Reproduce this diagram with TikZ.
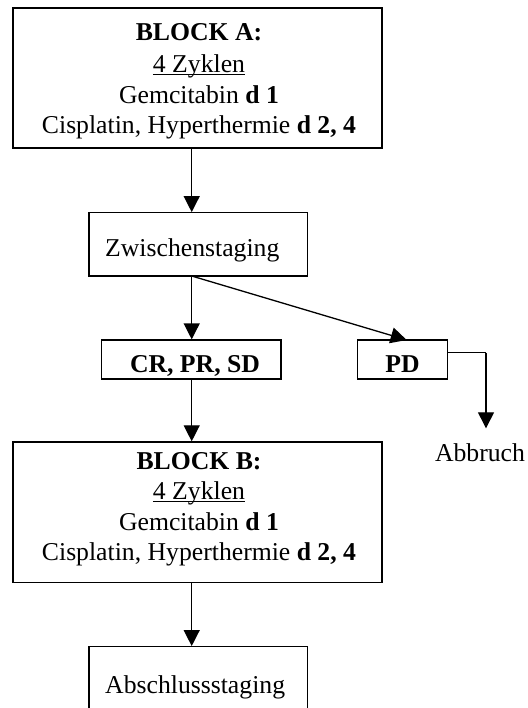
\documentclass[tikz,border=0pt]{standalone}
\usepackage{fontspec}
\setmainfont{Liberation Serif}
\usetikzlibrary{arrows.meta}
\begin{document}
\begin{tikzpicture}[x=1pt,y=-1pt,
  box/.style={draw,line width=1.3pt,inner sep=0pt,rectangle},
  txt/.style={inner sep=0pt,font=\fontsize{25.7}{30.5}\selectfont},
  arr/.style={line width=1.3pt,-{Triangle[width=16pt,length=16pt]}},
  ln/.style={line width=1.3pt}]
\useasboundingbox (0,0) rectangle (527,708);
\clip (0,0) rectangle (527,708);
\fill[white] (0,0) rectangle (527,708);
% boxes
\node[box,minimum width=369pt,minimum height=140pt] (A) at (197.5,78) {};
\node[box,minimum width=218.7pt,minimum height=63.3pt] (Z) at (198.4,244.4) {};
\node[box,minimum width=179.3pt,minimum height=39pt] (C) at (191.4,359.5) {};
\node[box,minimum width=90pt,minimum height=39pt] (P) at (402.7,359.5) {};
\node[box,minimum width=369pt,minimum height=140.7pt] (B) at (197.5,512.3) {};
\node[box,minimum width=218.7pt,minimum height=70pt] (E) at (198.4,681.7) {};
% texts
\node[txt,align=center,anchor=north] (At) at (199,23.5) {\textbf{BLOCK A:}\\[1.5pt]\underline{\smash{4 Zyklen}}\\Gemcitabin \textbf{d 1}\\Cisplatin, Hyperthermie \textbf{d 2, 4}};
\node[txt,align=center,anchor=north] (Bt) at (199,452) {\textbf{BLOCK B:}\\\underline{\smash{4 Zyklen}}\\Gemcitabin \textbf{d 1}\\Cisplatin, Hyperthermie \textbf{d 2, 4}};
\node[txt,anchor=base west] (Zt) at (105,256.7) {Zwischenstaging};
\node[txt,anchor=base] (Ct) at (195,372.3) {\textbf{CR, PR, SD}};
\node[txt,anchor=base] (Pt) at (402.5,372.3) {\textbf{PD}};
\node[txt,anchor=base] (Ab) at (480,461.7) {Abbruch};
\node[txt,anchor=base west] (Et) at (105,693.3) {Abschlussstaging};
% connectors
\coordinate (ax) at (191.7,0);
\coordinate (zs) at (191.7,276);
\coordinate (pt) at (406.7,340);
\coordinate (rx) at (486,352.7);
\coordinate (ab) at (486,428.3);
\draw[arr] (A.south -| ax) -- (Z.north -| ax);
\draw[arr] (zs) -- (C.north -| ax);
\draw[arr] (zs) -- (pt);
\draw[ln] (P.east |- rx) -- (rx);
\draw[arr] (rx) -- (ab);
\draw[arr] (C.south -| ax) -- (B.north -| ax);
\draw[arr] (B.south -| ax) -- (E.north -| ax);
\end{tikzpicture}
\end{document}
